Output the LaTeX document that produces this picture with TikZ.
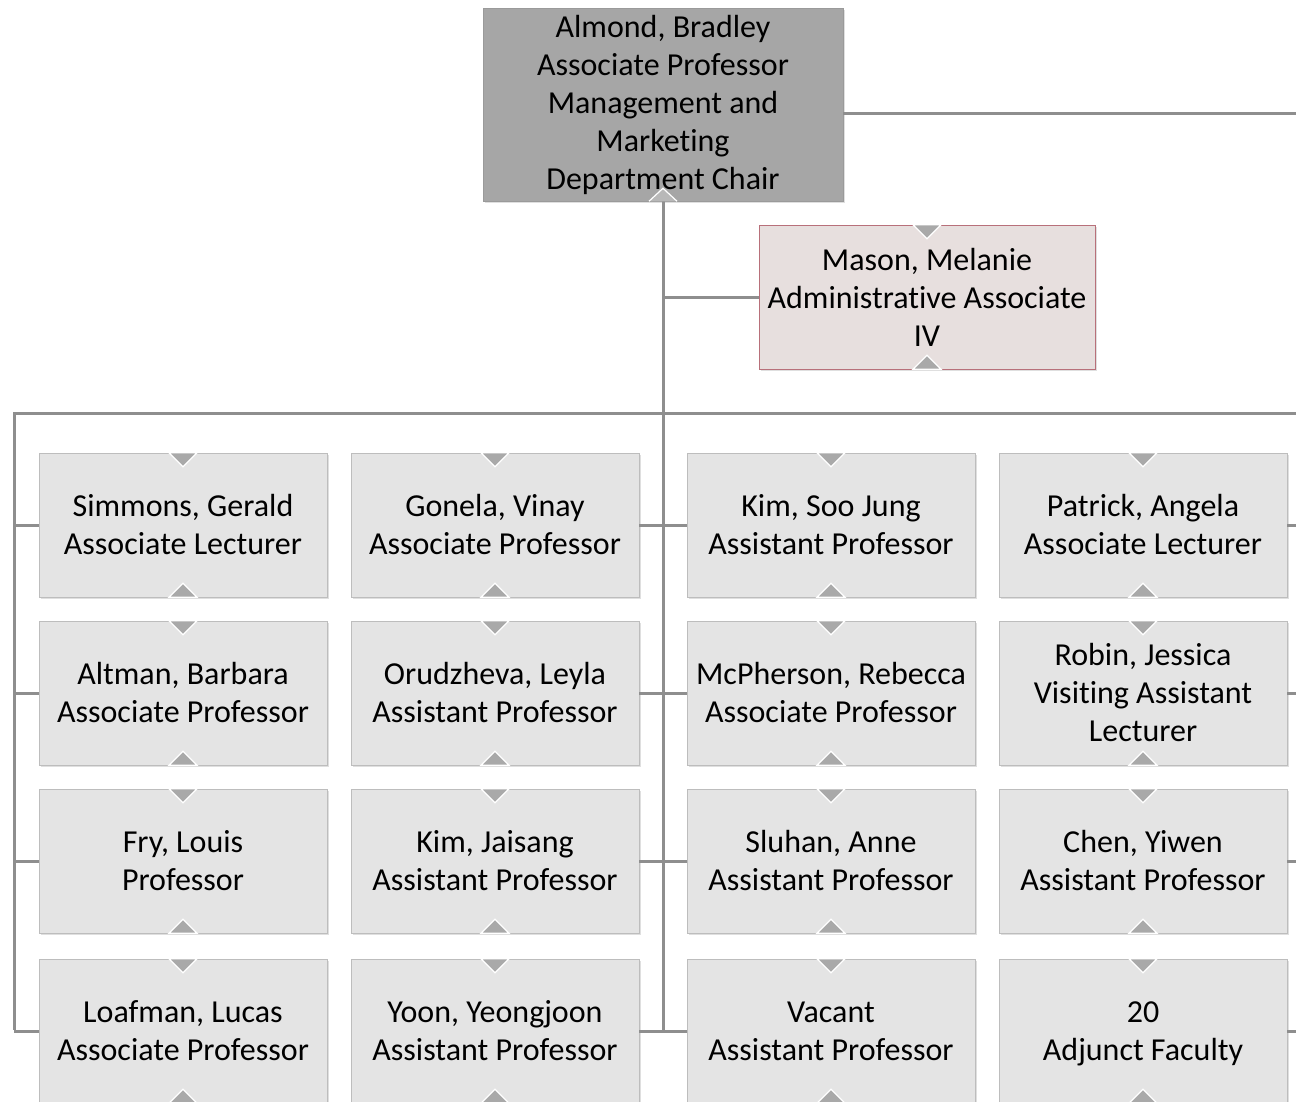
\documentclass[tikz,border=0pt]{standalone}
\usepackage{fontspec}
\setmainfont{Carlito}[Ligatures=NoCommon]
\usepackage{tikz}
\usetikzlibrary{shadows}

\definecolor{chairfill}{HTML}{A6A6A6}
\definecolor{chairline}{HTML}{9A9A9A}
\definecolor{staffill}{HTML}{E7DFDE}
\definecolor{staffline}{HTML}{B8707A}
\definecolor{memberfill}{HTML}{E4E4E4}
\definecolor{memberline}{HTML}{BDBDBD}
\definecolor{linkgray}{HTML}{8E8E8E}
\definecolor{notchgray}{HTML}{A9A9A9}

\begin{document}
\begin{tikzpicture}[x=0.75pt,y=-0.75pt,
    conn/.style={draw=linkgray, line width=2.25pt},
    notch/.style={fill=notchgray, draw=white, line width=0.9pt, line join=miter}]
\useasboundingbox (0,0) rectangle (1296,1102);
\begin{scope}[every node/.style={rectangle, align=center, inner sep=2pt,
    font=\fontsize{24}{28.5}\selectfont,
    drop shadow={shadow xshift=1.2pt, shadow yshift=-1.8pt, opacity=.25, fill=black!50}}]
    % head of department and assistant
    \node[fill=chairfill, draw=chairline, minimum width=270pt, minimum height=144.75pt] (almond) at (663,104.5)
        {Almond, Bradley\\Associate Professor\\Management and\\Marketing\\Department Chair};
    \node[fill=staffill, draw=staffline, minimum width=252pt, minimum height=108pt] (mason) at (927,297)
        {Mason, Melanie\\Administrative Associate\\IV};

    % faculty, column by column
    \begin{scope}[every node/.append style={fill=memberfill, draw=memberline, minimum width=216pt, minimum height=108pt}]
    \node (simmons)   at (183,525)  {Simmons, Gerald\\Associate Lecturer};
    \node (altman)    at (183,693)  {Altman, Barbara\\Associate Professor};
    \node (fry)       at (183,861)  {Fry, Louis\\Professor};
    \node (loafman)   at (183,1031) {Loafman, Lucas\\Associate Professor};

    \node (gonela)    at (495,525)  {Gonela, Vinay\\Associate Professor};
    \node (orudzheva) at (495,693)  {Orudzheva, Leyla\\Assistant Professor};
    \node (kimj)      at (495,861)  {Kim, Jaisang\\Assistant Professor};
    \node (yoon)      at (495,1031) {Yoon, Yeongjoon\\Assistant Professor};

    \node (kims)      at (831,525)  {Kim, Soo Jung\\Assistant Professor};
    \node (mcpherson) at (831,693)  {McPherson, Rebecca\\Associate Professor};
    \node (sluhan)    at (831,861)  {Sluhan, Anne\\Assistant Professor};
    \node (vacant)    at (831,1031) {Vacant\\Assistant Professor};

    \node (patrick)   at (1143,525)  {Patrick, Angela\\Associate Lecturer};
    \node (robin)     at (1143,693)  {Robin, Jessica\\Visiting Assistant\\Lecturer};
    \node (chen)      at (1143,861)  {Chen, Yiwen\\Assistant Professor};
    \node (adjunct)   at (1143,1031) {\strut 20\\Adjunct Faculty};
    \end{scope}
\end{scope}

% junction points
\coordinate (spineend) at (663,1030);
\coordinate (busL) at (14,413);
\coordinate (busR) at (1296,413);
\coordinate (leftend) at (14,1030);
\coordinate (edgeR) at (1296,413);

\draw[conn] (almond.south) -- (spineend);
\draw[conn] (almond.south |- mason.west) -- (mason.west);
\draw[conn] ([yshift=-6.4pt]almond.east) -- ([yshift=-6.4pt]almond.east -| edgeR);
\draw[conn] (busR) -- (busL) -- (leftend);

\foreach \a/\b/\c/\d in {simmons/gonela/kims/patrick, altman/orudzheva/mcpherson/robin,
                         fry/kimj/sluhan/chen, loafman/yoon/vacant/adjunct} {
    \path[conn] (busL |- \a.west) edge (\a.west);
    \path[conn] (\b.east) edge (\c.west);
    \path[conn] (\d.east) edge (\d.east -| edgeR);
}

% little markers on the boxes
\path[notch, fill=chairline!70] (almond.south) ++(-14,0) -- ++(14,-13) -- ++(14,13);
\path[notch] (mason.north) ++(-14,0) -- ++(14,14) -- ++(14,-14) -- cycle;
\path[notch] (mason.south) ++(-14,0) -- ++(14,-14) -- ++(14,14) -- cycle;
\foreach \n in {simmons,altman,fry,loafman,gonela,orudzheva,kimj,yoon,
                kims,mcpherson,sluhan,vacant,patrick,robin,chen,adjunct} {
    \path[notch] (\n.north) ++(-14,0) -- ++(14,14) -- ++(14,-14) -- cycle;
    \path[notch] (\n.south) ++(-14,0) -- ++(14,-14) -- ++(14,14) -- cycle;
}
\end{tikzpicture}
\end{document}
